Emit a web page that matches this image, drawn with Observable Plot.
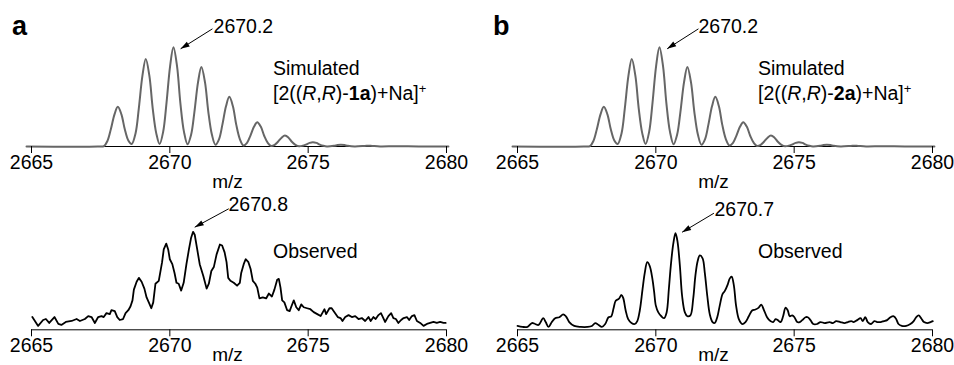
<!DOCTYPE html>
<html><head><meta charset="utf-8">
<script src="https://cdn.jsdelivr.net/npm/d3@7"></script>
<script src="https://cdn.jsdelivr.net/npm/@observablehq/plot@0.6"></script>
<style>
body{margin:0;background:#fff;}
#chart{position:relative;width:954px;height:365px;overflow:hidden;font-family:"Liberation Sans",Arial,sans-serif;background:#fff;}
#chart svg{position:absolute;overflow:visible;}
</style></head><body><div id="chart"></div>
<script>
// ---- data (m/z, relative intensity % of main peak) ----
const xTicks = [2665, 2670, 2675, 2680];

const simMz = [2664.82,2667.40,2667.62,2667.75,2667.87,2668.00,2668.12,2668.25,2668.37,2668.50,
  2668.62,2668.76,2668.88,2669.01,2669.13,2669.26,2669.38,2669.51,2669.63,2669.76,
  2669.88,2670.01,2670.13,2670.26,2670.38,2670.51,2670.64,2670.77,2670.89,2671.02,
  2671.14,2671.27,2671.39,2671.52,2671.65,2671.78,2671.90,2672.03,2672.15,2672.28,
  2672.40,2672.53,2672.66,2672.79,2672.91,2673.04,2673.16,2673.29,2673.41,2673.54,
  2673.66,2673.79,2673.91,2674.04,2674.16,2674.29,2674.41,2674.54,2674.67,2674.80,
  2674.92,2675.05,2675.17,2675.30,2675.42,2675.55,2675.68,2675.93,2676.06,2676.18,
  2676.31,2676.43,2676.68,2677.05,2677.18,2677.31,2677.60,2678.20,2679.00,2680.07];
const simAInt = [0,0,0.4,6.0,17.6,32.4,40,32.4,17.6,6.0,
  2.5,13.2,38.7,71.3,88,71.3,38.7,13.2,2.5,15,
  44,81,100,81,44,15,2.3,12,35.2,64.8,
  80,64.8,35.2,12,1.7,7.5,22,40.5,50,40.5,
  22,7.5,1,3.7,10.8,19.8,24.5,19.8,10.8,3.7,
  0.5,1.7,4.8,8.9,11,8.9,4.8,1.7,0.2,0.7,
  1.9,3.6,4.4,3.6,1.9,0.7,0.1,0.7,1.4,1.7,
  1.4,0.7,0.1,0.6,0.8,0.6,0.1,0.3,0,0];
const simBInt = [0,0,0.4,6.0,17.6,32.4,40,32.4,17.6,6.0,
  2.5,13.2,38.7,71.3,88,71.3,38.7,13.2,2.5,15,
  44,81,100,81,44,15,2.3,12,35.2,64.8,
  80,64.8,35.2,12,1.7,7.5,22,40.5,50,40.5,
  22,7.5,1,3.7,10.8,19.8,24.5,19.8,10.8,3.7,
  0.5,1.7,4.8,8.9,11,8.9,4.8,1.7,0.2,0.7,
  1.9,3.6,4.4,3.6,1.9,0.7,0.1,0.7,1.4,1.7,
  1.4,0.7,0.1,0.6,0.8,0.6,0.1,0.3,0,0];

const obsAMz = [2665.03,2665.24,2665.42,2665.52,2665.64,2665.83,2665.97,2666.08,2666.24,2666.45,
  2666.63,2666.75,2666.93,2667.05,2667.17,2667.29,2667.41,2667.53,2667.61,2667.71,
  2667.83,2667.89,2668.01,2668.10,2668.19,2668.31,2668.40,2668.50,2668.58,2668.65,
  2668.70,2668.80,2668.88,2668.98,2669.08,2669.16,2669.24,2669.33,2669.40,2669.48,
  2669.60,2669.72,2669.78,2669.87,2669.94,2670.00,2670.09,2670.17,2670.24,2670.32,
  2670.41,2670.50,2670.60,2670.69,2670.77,2670.84,2670.90,2670.99,2671.08,2671.21,
  2671.33,2671.41,2671.50,2671.59,2671.69,2671.81,2671.89,2671.98,2672.05,2672.11,
  2672.19,2672.31,2672.43,2672.53,2672.58,2672.67,2672.74,2672.84,2672.92,2673.00,
  2673.09,2673.16,2673.24,2673.36,2673.48,2673.58,2673.69,2673.78,2673.88,2673.94,
  2674.00,2674.06,2674.14,2674.24,2674.33,2674.41,2674.48,2674.57,2674.66,2674.75,
  2674.84,2674.96,2675.08,2675.20,2675.33,2675.45,2675.53,2675.59,2675.65,2675.77,
  2675.85,2675.95,2676.07,2676.17,2676.24,2676.34,2676.46,2676.58,2676.70,2676.82,
  2676.94,2677.06,2677.18,2677.26,2677.36,2677.44,2677.54,2677.63,2677.70,2677.78,
  2677.90,2678.00,2678.08,2678.17,2678.26,2678.36,2678.45,2678.57,2678.65,2678.75,
  2678.84,2678.93,2679.05,2679.17,2679.29,2679.41,2679.53,2679.65,2679.77,2679.89,
  2679.97];
const obsAInt = [13,4,10,11,7,13,6,5,8,9,
  11,9,11,14,13,7,13,14,13,17,
  16,20,19,13,10,11,17,20,24,30,
  41,49,53,49,42,33,28,22,28,47,
  50,69,82,88,82,72,67,58,48,47,
  40,48,67,82,94,100,97,82,67,55,
  42,47,60,64,77,87,86,79,69,53,
  50,48,45,48,58,67,72,69,62,50,
  47,43,32,33,32,37,34,41,51,52,
  43,30,28,20,19,25,30,23,20,26,
  23,22,21,18,16,14,18,21,16,22,
  22,18,13,12,9,13,15,13,14,11,
  12,9,13,9,13,11,15,17,13,8,
  14,17,12,11,7,10,12,13,10,14,
  15,9,7,4,6,7,8,7,8,7,
  7];

const obsBMz = [2665.00,2665.18,2665.36,2665.52,2665.64,2665.76,2665.93,2666.02,2666.12,2666.24,
  2666.36,2666.51,2666.65,2666.75,2666.87,2667.05,2667.29,2667.53,2667.69,2667.81,
  2667.93,2668.05,2668.17,2668.29,2668.39,2668.47,2668.55,2668.66,2668.76,2668.82,
  2668.91,2669.00,2669.12,2669.24,2669.33,2669.42,2669.52,2669.60,2669.69,2669.78,
  2669.88,2669.94,2670.00,2670.09,2670.20,2670.30,2670.39,2670.47,2670.54,2670.63,
  2670.71,2670.78,2670.87,2670.95,2671.05,2671.14,2671.25,2671.35,2671.43,2671.51,
  2671.59,2671.69,2671.77,2671.86,2671.95,2672.05,2672.13,2672.22,2672.31,2672.41,
  2672.49,2672.60,2672.67,2672.74,2672.82,2672.90,2673.00,2673.12,2673.24,2673.36,
  2673.48,2673.60,2673.72,2673.81,2673.90,2674.02,2674.14,2674.24,2674.33,2674.41,
  2674.51,2674.60,2674.69,2674.77,2674.84,2674.93,2675.01,2675.11,2675.20,2675.29,
  2675.41,2675.49,2675.59,2675.69,2675.83,2675.95,2676.10,2676.28,2676.40,2676.52,
  2676.67,2676.82,2676.94,2677.06,2677.15,2677.28,2677.40,2677.48,2677.57,2677.66,
  2677.78,2677.90,2678.00,2678.12,2678.24,2678.36,2678.48,2678.60,2678.69,2678.77,
  2678.89,2679.05,2679.20,2679.32,2679.41,2679.50,2679.59,2679.69,2679.81,2679.93,
  2680.01];
const obsBInt = [4,3,3,7,6,5,12,8,3,8,
  12,13,16,14,8,4,3,3,4,7,
  5,3,6,13,14,22,30,32,36,33,
  20,11,7,6,9,20,42,59,70,66,
  52,39,25,18,14,12,18,42,66,89,
  100,92,66,35,18,14,15,32,56,71,
  77,74,59,35,16,8,7,13,25,37,
  40,47,53,55,46,25,11,6,8,14,
  20,21,23,26,21,13,9,8,11,10,
  8,14,23,20,14,15,13,8,8,10,
  13,13,10,6,6,8,7,8,7,9,
  8,7,8,9,8,10,12,9,13,8,
  6,9,8,8,9,10,13,14,11,6,
  4,4,6,9,13,15,12,8,7,8,
  9];

// peak annotations: label, text anchor, arrow start, arrow tip (m/z, intensity)
const annLabel   = ["2670.2", "2670.2", "2670.8", "2670.7"];
const annTextMz  = [2671.58, 2671.54, 2672.12, 2672.12];
const annTextInt = [114.8, 114.8, 121.7, 117.3];
const annFromMz  = [2671.54, 2671.54, 2672.13, 2672.10];
const annFromInt = [118.5, 118.5, 123.5, 120.7];
const annTipMz   = [2670.39, 2670.41, 2670.90, 2670.95];
const annTipInt  = [98.4, 98.4, 104.7, 101.0];

// ---- drawing ----
const chart = document.getElementById("chart");
const FONT = '"Liberation Sans", Arial, Helvetica, sans-serif';

function panel(o) {
  const data = o.mz.map((m, i) => ({mz: m, v: o.vals[i]}));
  const k = o.ann;
  const ann = [{label: annLabel[k], tx: annTextMz[k], ty: annTextInt[k],
    fx: annFromMz[k], fy: annFromInt[k], px: annTipMz[k], py: annTipInt[k]}];
  const svg = Plot.plot({
    width: o.width, height: o.height,
    marginLeft: o.mL, marginRight: o.mR, marginTop: o.mT, marginBottom: o.mB,
    x: {domain: [2665, 2680]},
    y: {domain: [0, 100], axis: null},
    style: {fontFamily: FONT, fontSize: "19.5px", color: "black", background: "transparent", overflow: "visible"},
    marks: [
      Plot.ruleY([0], {stroke: "black", strokeWidth: 1}),
      Plot.line(data, {x: "mz", y: "v", stroke: o.stroke, strokeWidth: o.sw, curve: o.curve}),
      Plot.axisX({ticks: xTicks, tickFormat: d3.format("d"), tickSize: 7, tickPadding: 1.5, label: null, fontSize: 19.5}),
      Plot.text(["m/z"], {frameAnchor: "bottom", dx: -11.5, dy: o.labelDy, lineAnchor: "bottom", fontSize: 19}),
      Plot.link(ann, {x1: "fx", y1: "fy", x2: "px", y2: "py", stroke: "black", strokeWidth: 1, markerEnd: "arrow"}),
      Plot.text(ann, {x: "tx", y: "ty", text: "label", textAnchor: "start", lineAnchor: "bottom", fontSize: 19.5})
    ]
  });
  svg.querySelectorAll("marker").forEach(m => {
    m.setAttribute("viewBox", "-10 -5 11 10");
    m.setAttribute("markerUnits", "userSpaceOnUse");
    m.setAttribute("markerWidth", "11");
    m.setAttribute("markerHeight", "10");
    m.setAttribute("refX", "0");
    m.setAttribute("refY", "0");
    m.setAttribute("fill", "black");
    m.setAttribute("stroke", "none");
    const p = m.querySelector("path");
    if (p) p.setAttribute("d", "M-9,-2.8L0,0L-9,2.8Z");
  });
  svg.style.left = o.left + "px";
  svg.style.top = o.top + "px";
  chart.appendChild(svg);
}

panel({mz: simMz, vals: simAInt, stroke: "#666", sw: 2, curve: "catmull-rom",
  left: 0, top: 0, width: 477, height: 192, mL: 31, mR: 31, mT: 46.7, mB: 46, labelDy: 41, ann: 0});
panel({mz: simMz, vals: simBInt, stroke: "#666", sw: 2, curve: "catmull-rom",
  left: 477, top: 0, width: 477, height: 192, mL: 40, mR: 22, mT: 46.7, mB: 46, labelDy: 41, ann: 1});
panel({mz: obsAMz, vals: obsAInt, stroke: "black", sw: 1.8, curve: "linear",
  left: 0, top: 192, width: 477, height: 173, mL: 31, mR: 31, mT: 39.3, mB: 35.7, labelDy: 31.5, ann: 2});
panel({mz: obsBMz, vals: obsBInt, stroke: "black", sw: 1.8, curve: "catmull-rom",
  left: 477, top: 192, width: 477, height: 173, mL: 40, mR: 22, mT: 40.7, mB: 35.7, labelDy: 31.5, ann: 3});

// styled labels
const ov = d3.select(chart).append("svg")
  .attr("width", 954).attr("height", 365)
  .style("left", "0px").style("top", "0px")
  .attr("font-family", FONT).attr("fill", "black");
ov.append("text").attr("x", 12).attr("y", 35).attr("font-size", 27).attr("font-weight", "bold").text("a");
ov.append("text").attr("x", 493).attr("y", 35).attr("font-size", 27).attr("font-weight", "bold").text("b");
[[273, "1a"], [758, "2a"]].forEach(([x, cmp]) => {
  ov.append("text").attr("x", x).attr("y", 75).attr("font-size", 19.5).text("Simulated");
  ov.append("text").attr("x", x).attr("y", 99.5).attr("font-size", 19.5)
    .html(`[2((<tspan font-style="italic">R</tspan>,<tspan font-style="italic">R</tspan>)-<tspan font-weight="bold">${cmp}</tspan>)+Na]<tspan font-size="13" dy="-7">+</tspan>`);
  ov.append("text").attr("x", x).attr("y", 258).attr("font-size", 19.5).text("Observed");
});
</script>
</body></html>
